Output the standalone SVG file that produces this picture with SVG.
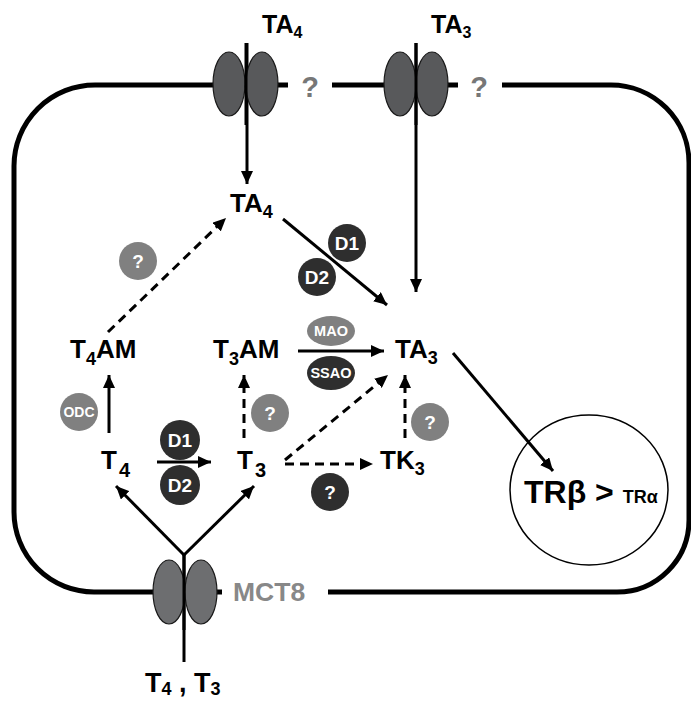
<svg xmlns="http://www.w3.org/2000/svg" width="691" height="703" viewBox="0 0 691 703">
<defs>
<marker id="ah" markerUnits="userSpaceOnUse" markerWidth="13" markerHeight="12" refX="13" refY="6" orient="auto">
<path d="M0,0 L13,6 L0,12 z" fill="#000"/>
</marker>
<style>
text{font-family:"Liberation Sans",Arial,sans-serif;font-weight:bold}
.lbl{font-size:26px;fill:#000}
.sub{font-size:18px}
.mem{fill:none;stroke:#000;stroke-width:5}
.conn{fill:none;stroke:#000;stroke-width:3}
.dash{stroke-dasharray:9 6}
.tr1{fill:#58595b;stroke:#1a1a1a;stroke-width:1.2}
.tr2{fill:#6d6e70;stroke:#1a1a1a;stroke-width:1.2}
.dark{fill:#2e2e2e}
.gray{fill:#808080}
.bt{fill:#fff;font-size:19px;text-anchor:middle}
.bs{fill:#fff;font-size:14.5px;text-anchor:middle}
.qm{fill:#777;font-size:29px;text-anchor:middle}
</style>
</defs>
<rect width="691" height="703" fill="#fff"/>

<g id="membrane">
<path class="mem" d="M288 85 H95 A81 81 0 0 0 14 166 V512 A80 80 0 0 0 94 592 H222"/>
<path class="mem" d="M332 85 H458"/>
<path class="mem" d="M502 85 H611 A78 78 0 0 1 689 163 V520 A72 72 0 0 1 617 592 H328"/>
</g>

<g id="connectors">
<path class="conn" d="M247 43 V184" marker-end="url(#ah)"/>
<path class="conn" d="M416 43 V292" marker-end="url(#ah)"/>
<path class="conn" d="M283 219 L387 305" marker-end="url(#ah)"/>
<path class="conn" d="M298 351 H384" marker-end="url(#ah)"/>
<path class="conn" d="M109 433 V375" marker-end="url(#ah)"/>
<path class="conn dash" d="M244 438 V375" marker-end="url(#ah)"/>
<path class="conn dash" d="M285 460 L388 375" marker-end="url(#ah)"/>
<path class="conn dash" d="M405 438 V375" marker-end="url(#ah)"/>
<path class="conn" d="M157 462 H211" marker-end="url(#ah)"/>
<path class="conn dash" d="M285 464 H373" marker-end="url(#ah)"/>
<path class="conn dash" d="M108 332 L226 218" marker-end="url(#ah)"/>
<path class="conn" d="M453 353 L553 471" marker-end="url(#ah)"/>
<path class="conn" d="M184 662 V555"/>
<path class="conn" d="M184 555 L116 486" marker-end="url(#ah)"/>
<path class="conn" d="M184 555 L254 486" marker-end="url(#ah)"/>
</g>

<g id="transporter-TA4">
<ellipse class="tr1" cx="229" cy="84" rx="16" ry="32"/>
<ellipse class="tr1" cx="262" cy="84" rx="16" ry="32"/>
<line x1="246" y1="43" x2="246" y2="125" stroke="#000" stroke-width="3"/>
<text class="qm" x="310" y="97">?</text>
</g>
<g id="transporter-TA3">
<ellipse class="tr1" cx="400" cy="84" rx="16" ry="32"/>
<ellipse class="tr1" cx="432" cy="84" rx="16" ry="32"/>
<line x1="416" y1="43" x2="416" y2="125" stroke="#000" stroke-width="3"/>
<text class="qm" x="479" y="97">?</text>
</g>
<g id="transporter-MCT8">
<ellipse class="tr2" cx="169" cy="592" rx="16" ry="32"/>
<ellipse class="tr2" cx="201" cy="592" rx="16" ry="32"/>
<line x1="184" y1="555" x2="184" y2="630" stroke="#000" stroke-width="3"/>
<text x="233" y="601" style="font-size:26.5px;fill:#888">MCT8</text>
</g>

<g id="TA4-out"><text class="lbl" x="262" y="33" style="font-size:25px">TA<tspan class="sub" style="font-size:16px" dy="5">4</tspan></text></g>
<g id="TA3-out"><text class="lbl" x="431" y="33" style="font-size:25px">TA<tspan class="sub" style="font-size:16px" dy="5">3</tspan></text></g>
<g id="TA4"><text class="lbl" x="230" y="212">TA<tspan class="sub" dy="6">4</tspan></text></g>
<g id="T4AM"><text class="lbl" x="70" y="358">T<tspan class="sub" dy="7">4</tspan><tspan dy="-7">AM</tspan></text></g>
<g id="T3AM"><text class="lbl" x="213" y="358">T<tspan class="sub" dy="7">3</tspan><tspan dy="-7">AM</tspan></text></g>
<g id="TA3"><text class="lbl" x="395" y="358">TA<tspan class="sub" dy="6">3</tspan></text></g>
<g id="T4"><text class="lbl" x="101" y="469">T<tspan class="sub" style="font-size:20px" dx="2" dy="8">4</tspan></text></g>
<g id="T3"><text class="lbl" x="237" y="469">T<tspan class="sub" style="font-size:20px" dx="2" dy="8">3</tspan></text></g>
<g id="TK3"><text class="lbl" x="380" y="469">TK<tspan class="sub" dy="6">3</tspan></text></g>
<g id="T4T3-out"><text class="lbl" x="145" y="692" style="font-size:27px">T<tspan class="sub" dy="3">4</tspan><tspan dy="-3"> , T</tspan><tspan class="sub" dy="3">3</tspan></text></g>

<g id="nucleus">
<ellipse cx="589" cy="490" rx="79" ry="75" fill="none" stroke="#000" stroke-width="1.5"/>
<text x="524" y="503" style="font-size:32px">TRβ &gt; <tspan style="font-size:18px">TRα</tspan></text>
</g>

<g id="enz-q1"><circle class="gray" cx="138" cy="261" r="19"/><text class="bt" x="138" y="268">?</text></g>
<g id="enz-D1a"><circle class="dark" cx="347" cy="243" r="19"/><text class="bt" x="347" y="250">D1</text></g>
<g id="enz-D2a"><circle class="dark" cx="317" cy="277" r="19"/><text class="bt" x="317" y="284">D2</text></g>
<g id="enz-MAO"><ellipse class="gray" cx="331" cy="331" rx="24" ry="15"/><text class="bs" x="331" y="336">MAO</text></g>
<g id="enz-SSAO"><ellipse class="dark" cx="331" cy="373" rx="24" ry="17"/><text class="bs" x="331" y="378">SSAO</text></g>
<g id="enz-ODC"><circle class="gray" cx="79" cy="412" r="19"/><text class="bs" x="79" y="417" style="font-size:14px">ODC</text></g>
<g id="enz-q2"><circle class="gray" cx="270" cy="413" r="19"/><text class="bt" x="270" y="420">?</text></g>
<g id="enz-D1b"><circle class="dark" cx="180" cy="440" r="20"/><text class="bt" x="180" y="447">D1</text></g>
<g id="enz-D2b"><circle class="dark" cx="180" cy="485" r="20"/><text class="bt" x="180" y="492">D2</text></g>
<g id="enz-q3"><circle class="gray" cx="430" cy="422" r="19"/><text class="bt" x="430" y="429">?</text></g>
<g id="enz-q4"><circle class="dark" cx="330" cy="492" r="19"/><text class="bt" x="330" y="499">?</text></g>
</svg>
